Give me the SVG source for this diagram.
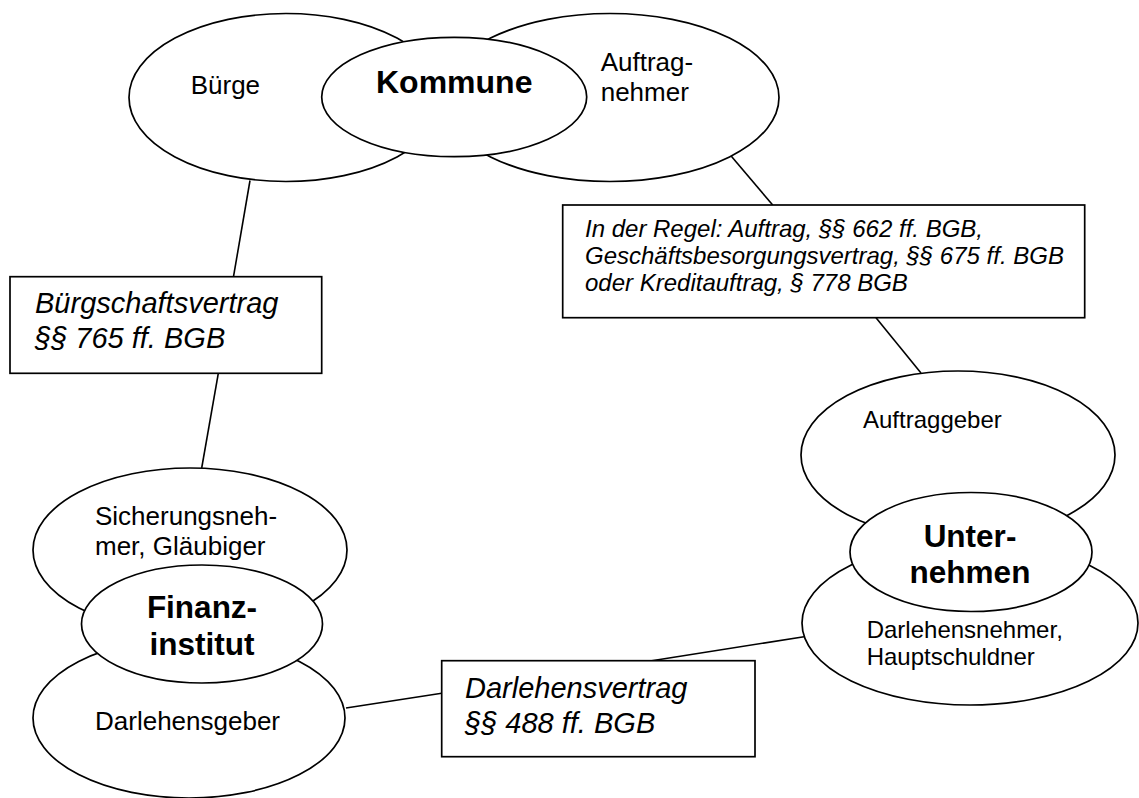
<svg xmlns="http://www.w3.org/2000/svg" width="1139" height="798" viewBox="0 0 1139 798">
<style>
.e{fill:#fff;stroke:#000;stroke-width:1.7}
.b{fill:#fff;stroke:#000;stroke-width:1.7}
.c line{stroke:#000;stroke-width:1.6}
text{font-family:"Liberation Sans",Arial,sans-serif;fill:#000}
.l{font-size:26px}
.s{font-size:24px}
.k{font-size:31.5px;font-weight:bold;text-anchor:middle}
.i{font-size:29px;font-style:italic}
.j{font-size:24px;font-style:italic}
</style>
<rect width="1139" height="798" fill="#fff"/>
<g class="c" id="connectors">
<line x1="250" y1="180.5" x2="233.5" y2="276.7"/>
<line x1="218.3" y1="373.3" x2="201.7" y2="468"/>
<line x1="730.7" y1="155.5" x2="772.7" y2="205"/>
<line x1="876" y1="317.7" x2="921" y2="373"/>
<line x1="346" y1="708" x2="441.7" y2="693.3"/>
<line x1="651.7" y1="660.7" x2="804" y2="636.7"/>
</g>
<g id="buerge"><ellipse class="e" cx="286" cy="97.5" rx="157" ry="84"/><text class="l" x="190.7" y="94.3">Bürge</text></g>
<g id="auftragnehmer"><ellipse class="e" cx="610" cy="97.5" rx="169" ry="84"/><text class="l" x="600.7" y="70.7">Auftrag-</text><text class="l" x="600.7" y="100.7">nehmer</text></g>
<g id="kommune"><ellipse class="e" cx="454.2" cy="97" rx="132.5" ry="59.7"/><text class="k" x="454.2" y="92.7" style="font-size:32px">Kommune</text></g>
<g id="buergschaftsvertrag"><rect class="b" x="10" y="276.7" width="311.7" height="96.6"/><text class="i" x="35" y="313.3">Bürgschaftsvertrag</text><text class="i" x="35" y="348.3">§§ 765 ff. BGB</text></g>
<g id="auftrag"><rect class="b" x="562.7" y="205" width="522" height="112.7"/><text class="j" x="585" y="237">In der Regel: Auftrag, §§ 662 ff. BGB,</text><text class="j" x="585" y="264">Geschäftsbesorgungsvertrag, §§ 675 ff. BGB</text><text class="j" x="585" y="291">oder Kreditauftrag, § 778 BGB</text></g>
<g id="auftraggeber"><ellipse class="e" cx="958" cy="455" rx="157" ry="84"/><text class="s" x="863" y="428">Auftraggeber</text></g>
<g id="darlehensnehmer"><ellipse class="e" cx="970" cy="623" rx="168" ry="82"/><text class="s" x="866.7" y="638">Darlehensnehmer,</text><text class="s" x="866.7" y="665">Hauptschuldner</text></g>
<g id="unternehmen"><ellipse class="e" cx="971" cy="552" rx="121" ry="59.5"/><text class="k" x="970" y="546.7">Unter-</text><text class="k" x="970" y="583">nehmen</text></g>
<g id="sicherungsnehmer"><ellipse class="e" cx="190" cy="550" rx="157" ry="82"/><text class="l" x="95" y="525">Sicherungsneh-</text><text class="l" x="95" y="555">mer, Gläubiger</text></g>
<g id="darlehensgeber"><ellipse class="e" cx="189" cy="718" rx="156" ry="80"/><text class="l" x="95" y="730">Darlehensgeber</text></g>
<g id="finanzinstitut"><ellipse class="e" cx="202" cy="624" rx="120.5" ry="59"/><text class="k" x="202" y="618.3">Finanz-</text><text class="k" x="202" y="655">institut</text></g>
<g id="darlehensvertrag"><rect class="b" x="441.7" y="660.7" width="313.3" height="96"/><text class="i" x="465" y="698">Darlehensvertrag</text><text class="i" x="465" y="733">§§ 488 ff. BGB</text></g>
</svg>
